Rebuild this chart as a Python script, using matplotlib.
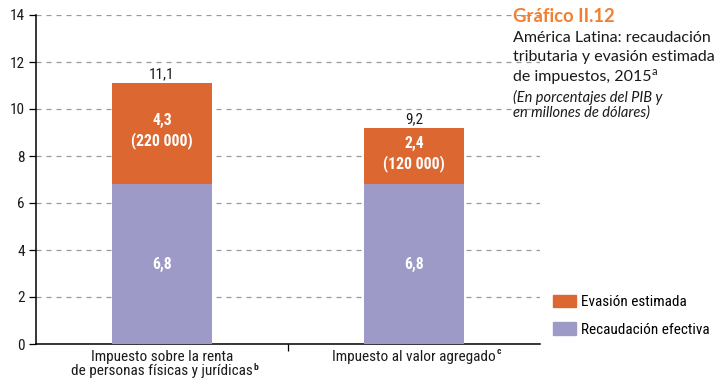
import matplotlib
matplotlib.use("Agg")
import matplotlib.pyplot as plt
from matplotlib.patches import Patch
from matplotlib import font_manager

categories = ["Impuesto sobre la renta\nde personas físicas y jurídicas",
              "Impuesto al valor agregado"]
cat_notes = ["b", "c"]
recaudacion = [6.8, 6.8]
evasion = [4.3, 2.4]
evasion_usd = ["220 000", "120 000"]
totals = ["11,1", "9,2"]
yticks = [0, 2, 4, 6, 8, 10, 12, 14]

names = {f.name for f in font_manager.fontManager.ttflist}
cond, fs = "Liberation Sans", 9.8
for cand, size in [("Roboto Condensed", 11.0), ("Liberation Sans Narrow", 11.0),
                   ("Open Sans Condensed", 10.5)]:
    if cand in names:
        cond, fs = cand, size
        break
plt.rcParams['font.family'] = [cond, 'DejaVu Sans']

c_or = "#DD6730"
c_pu = "#9E9AC8"
txt = "#1a1a1a"

fig = plt.figure(figsize=(7.24, 3.84), dpi=100)
ax = fig.add_axes([36/724, 40/384, 504/724, 329/384])

x = [0, 1]
ax.bar(x, recaudacion, width=0.4, color=c_pu, zorder=3)
ax.bar(x, evasion, width=0.4, bottom=recaudacion, color=c_or, zorder=3)

for i in x:
    ax.text(i, recaudacion[i] / 2, f"{recaudacion[i]:.1f}".replace(".", ","),
            ha="center", va="center", color="white", fontweight="bold", fontsize=fs + 0.3, zorder=4)
    ax.text(i, recaudacion[i] + evasion[i] / 2 + 0.1,
            f"{evasion[i]:.1f}".replace(".", ",") + f"\n({evasion_usd[i]})",
            ha="center", va="center", color="white", fontweight="bold", fontsize=fs + 0.3,
            linespacing=1.3, zorder=4)
    ax.text(i, recaudacion[i] + evasion[i] + 0.08, totals[i], ha="center", va="bottom",
            color=txt, fontsize=fs, zorder=4)

ax.set_xlim(-0.5, 1.5)
ax.set_ylim(0, 14)
ax.set_yticks(yticks)
ax.set_yticklabels([str(t) for t in yticks], fontsize=fs, color=txt)
ax.yaxis.grid(True, linestyle=(0, (4, 4)), color="#999999", linewidth=0.9, zorder=0)
ax.set_xticks([0.5])
ax.set_xticklabels([""])
ax.tick_params(axis="x", length=5, width=0.9)
ax.tick_params(axis="y", length=5, width=0.9, pad=3)
lab_y = -0.25
for i in x:
    ax.text(i, lab_y, categories[i], ha="center", va="top", fontsize=fs,
            color=txt, linespacing=1.0)
for s in ["top", "right"]:
    ax.spines[s].set_visible(False)
ax.spines["left"].set_linewidth(1.1)
ax.spines["bottom"].set_linewidth(1.1)

# superscript notes placed next to category labels
fig.canvas.draw()
r = fig.canvas.get_renderer()
inv = fig.transFigure.inverted()
for i, t in enumerate([c for c in ax.texts if c.get_text() in categories]):
    bb = t.get_window_extent(r)
    frac = 0.55 if "\n" not in t.get_text() else 0.2
    (x1, y0) = inv.transform((bb.x1 + 1, bb.y0 + bb.height * frac))
    fig.text(x1, y0, cat_notes[i], fontsize=fs * 0.62, fontweight="bold", color=txt,
             ha="left", va="bottom")

# Title block
hfam = ["Lato", "DejaVu Sans"]
fig.text(513/724, 1 - 17/384, "Gráfico II.12", color="#F08030", fontsize=13.3,
         fontweight="bold", family=hfam, va="center")
for j, line in enumerate(["América Latina: recaudación",
                          "tributaria y evasión estimada",
                          "de impuestos, 2015"]):
    tt = fig.text(513/724, 1 - (38 + j * 19.5)/384, line, color=txt, fontsize=11.5,
                  family=hfam, va="center")
fig.canvas.draw()
bb = tt.get_window_extent(r)
fig.text((bb.x1 + 0.5) / 724, (bb.y0 + bb.height * 0.5) / 384, "a", color=txt, fontsize=8,
         family=hfam, va="bottom")
for j, line in enumerate(["(En porcentajes del PIB y", "en millones de dólares)"]):
    fig.text(513/724, 1 - (97 + j * 16)/384, line, color=txt, fontsize=10.5,
             style="italic", family=hfam, va="center")

handles = [Patch(color=c_or, label="Evasión estimada"),
           Patch(color=c_pu, label="Recaudación efectiva")]
fig.legend(handles=handles, loc="upper left", bbox_to_anchor=(553/724, 1 - 295/384),
           frameon=False, fontsize=fs, handlelength=1.5, handleheight=0.85,
           labelspacing=0.85, handletextpad=0.35, borderaxespad=0, borderpad=0)

fig.savefig("out.png", dpi=100)
